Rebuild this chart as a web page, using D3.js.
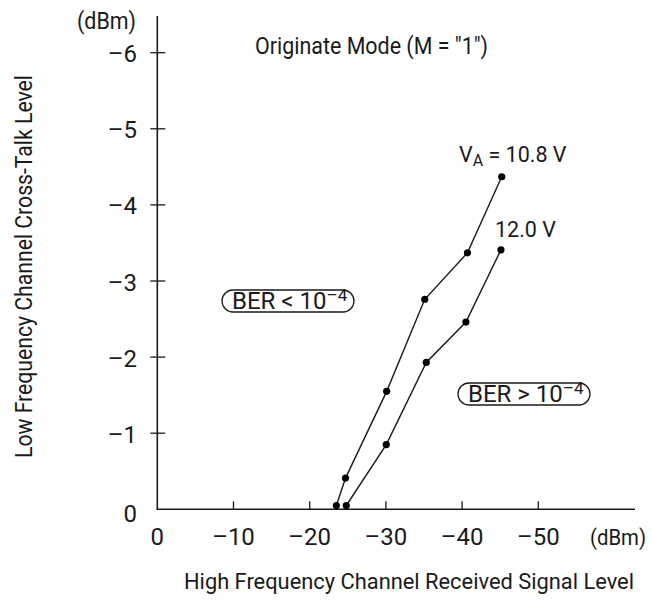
<!DOCTYPE html>
<html>
<head>
<meta charset="utf-8">
<script src="https://cdn.jsdelivr.net/npm/d3@7"></script>
<style>
html,body{margin:0;padding:0;background:#fff;}
svg{display:block;}
text{font-family:Roboto,"Liberation Sans",sans-serif;fill:#1a1a1a;}
</style>
</head>
<body>
<svg id="chart" width="652" height="601"></svg>
<script>
// ---- data ----
const xTicks = [0, -10, -20, -30, -40, -50];
const yTicks = [0, -1, -2, -3, -4, -5, -6];
const seriesNames = ["10.8 V", "12.0 V"];
const x108 = [-23.5, -24.7, -30.1, -35.1, -40.7, -45.2];
const y108 = [-0.05, -0.41, -1.55, -2.76, -3.37, -4.37];
const x120 = [-24.8, -30.05, -35.3, -40.5, -45.1];
const y120 = [-0.05, -0.85, -1.93, -2.46, -3.41];

const svg = d3.select("#chart");
const x = d3.scaleLinear().domain([0, -50]).range([157.3, 538.3]);
const y = d3.scaleLinear().domain([0, -6]).range([509.3, 52.7]);
const xEnd = x.invert(635);
const yEnd = y.invert(16);
const fmt = v => v === 0 ? "0" : "\u2013" + Math.abs(v);
const ink = "#1a1a1a";
const FS = 24;

// axes lines
svg.append("line").attr("x1", x(0) - 0.8).attr("x2", x(xEnd)).attr("y1", y(0)).attr("y2", y(0))
  .attr("stroke", ink).attr("stroke-width", 1.6);
svg.append("line").attr("x1", x(0)).attr("x2", x(0)).attr("y1", y(0)).attr("y2", y(yEnd))
  .attr("stroke", ink).attr("stroke-width", 1.6);

// x ticks (upward)
svg.selectAll(".xt").data(xTicks.filter(d => d !== 0)).enter().append("line")
  .attr("x1", d => x(d)).attr("x2", d => x(d)).attr("y1", y(0)).attr("y2", y(0) - 8)
  .attr("stroke", ink).attr("stroke-width", 1.3);
svg.selectAll(".xl").data(xTicks).enter().append("text")
  .attr("x", d => x(d)).attr("y", 545).attr("text-anchor", "middle")
  .attr("font-size", FS).text(fmt);
svg.append("text").attr("x", 646).attr("y", 545).attr("text-anchor", "end")
  .attr("font-size", 22).attr("textLength", 56).attr("lengthAdjust", "spacingAndGlyphs").text("(dBm)");

// y ticks (crossing)
svg.selectAll(".yt").data(yTicks.filter(d => d !== 0)).enter().append("line")
  .attr("x1", x(0) - 7).attr("x2", x(0) + 8).attr("y1", d => y(d)).attr("y2", d => y(d))
  .attr("stroke", ink).attr("stroke-width", 1.3);
svg.selectAll(".yl").data(yTicks).enter().append("text")
  .attr("x", 137).attr("y", d => d === 0 ? 522 : y(d) + 9.5).attr("text-anchor", "end")
  .attr("font-size", FS).text(fmt);
svg.append("text").attr("x", 77).attr("y", 29)
  .attr("font-size", FS).attr("textLength", 59).attr("lengthAdjust", "spacingAndGlyphs").text("(dBm)");

// axis titles
svg.append("text").attr("x", 409).attr("y", 589).attr("text-anchor", "middle")
  .attr("font-size", 22).attr("textLength", 450).attr("lengthAdjust", "spacingAndGlyphs")
  .text("High Frequency Channel Received Signal Level");
svg.append("text").attr("transform", "translate(32,458) rotate(-90)")
  .attr("font-size", FS).attr("textLength", 383).attr("lengthAdjust", "spacingAndGlyphs")
  .text("Low Frequency Channel Cross-Talk Level");

// series
const line = d3.line().x(d => x(d[0])).y(d => y(d[1]));
const series = [d3.zip(x108, y108), d3.zip(x120, y120)];
series.forEach(pts => {
  svg.append("path").attr("d", line(pts)).attr("fill", "none").attr("stroke", ink).attr("stroke-width", 1.4);
  svg.selectAll(null).data(pts).enter().append("circle")
    .attr("cx", d => x(d[0])).attr("cy", d => y(d[1])).attr("r", 3.6).attr("fill", "#000");
});

// annotations
svg.append("text").attr("x", 255).attr("y", 54).attr("font-size", FS)
  .attr("textLength", 233).attr("lengthAdjust", "spacingAndGlyphs").text("Originate Mode (M = \"1\")");
const va = svg.append("text").attr("x", 459).attr("y", 162).attr("font-size", 21.5);
va.append("tspan").text("V");
va.append("tspan").attr("font-size", 16).attr("dy", 4).text("A");
va.append("tspan").attr("dy", -4).text(" = " + seriesNames[0]);
svg.append("text").attr("x", 495).attr("y", 237).attr("font-size", 21.5).text(seriesNames[1]);

function berBox(bx, by, bw, bh, sym) {
  svg.append("rect").attr("x", bx).attr("y", by).attr("width", bw).attr("height", bh)
    .attr("rx", bh / 2).attr("ry", bh / 2).attr("fill", "none").attr("stroke", ink).attr("stroke-width", 1.3);
  const t = svg.append("text").attr("x", bx + 10).attr("y", by + 19).attr("font-size", FS);
  t.append("tspan").text("BER " + sym + " 10");
  t.append("tspan").attr("font-size", 17).attr("dy", -8).text("\u20134");
}
berBox(222, 290, 132, 22, "<");
berBox(458, 383, 132, 22, ">");
</script>
</body>
</html>
